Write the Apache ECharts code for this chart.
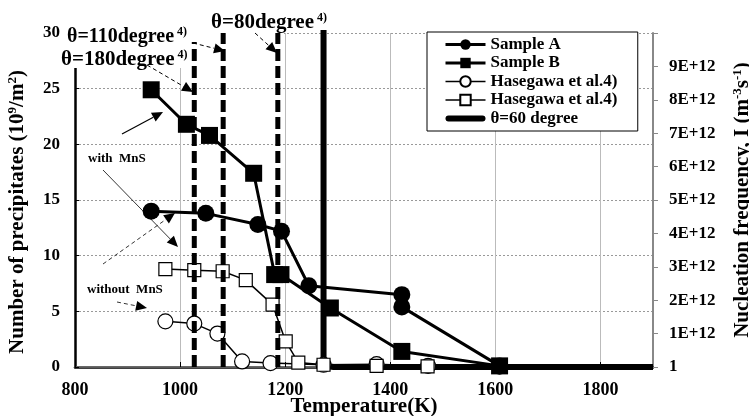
<!DOCTYPE html>
<html>
<head>
<meta charset="utf-8">
<script src="https://cdn.jsdelivr.net/npm/echarts@6/dist/echarts.min.js"></script>
<style>
  html, body { margin: 0; padding: 0; background: #fff; }
  #chart { width: 749px; height: 416px; }
</style>
</head>
<body>
<div id="chart"></div>
<script>
// 数据 (温度 K, 析出物数 10^9/m^2)
const sampleA = [[945, 14.0], [1049, 13.8], [1148, 12.8], [1193, 12.2], [1245, 7.3], [1422, 6.5], [1422, 5.4], [1608, 0.1]];
const sampleB = [[945, 24.9], [1012, 21.8], [1056, 20.8], [1140, 17.4], [1180, 8.3], [1192, 8.3], [1286, 5.3], [1422, 1.4], [1608, 0.1]];
const hasegawaCircle = [[972, 4.1], [1027, 3.9], [1071, 3.0], [1118, 0.5], [1172, 0.35], [1273, 0.2], [1374, 0.25], [1472, 0.1], [1608, 0.05]];
const hasegawaSquare = [[972, 8.8], [1027, 8.7], [1081, 8.6], [1125, 7.8], [1176, 5.6], [1201, 2.3], [1225, 0.4], [1273, 0.2], [1374, 0.1], [1471, 0.05], [1608, 0.05]];
// θ=60 degree 成核频率 (右轴)
const theta60 = [[1273, 1.2e13], [1273, 3e11], [1276, 1e11], [1282, 2e10], [1292, 0], [1900, 0]];
// 虚线 θ=180, 110, 80
const thetaAngles = ['180', '110', '80'];
const thetaTemps = [1027, 1082, 1186];
const thetaTops = [29.2, 30, 30];

const legendNames = ['Sample A', 'Sample B', 'Hasegawa et al.4)', 'Hasegawa et al.4) ', 'θ=60 degree'];
const xTicks = [800, 1900, 200];
const leftTicks = [0, 30, 5];
const rightTicks = [0, 1e13, 1e12];

const font = "'Liberation Serif', 'Times New Roman', serif";

const chart = echarts.init(document.getElementById('chart'));

function arrow(x1, y1, x2, y2, dashed, w) {
  const a = Math.atan2(y2 - y1, x2 - x1), L = 11, H = 5;
  const bx = x2 - L * Math.cos(a), by = y2 - L * Math.sin(a);
  return [
    { type: 'line', z: 20, shape: { x1: x1, y1: y1, x2: bx, y2: by },
      style: { stroke: '#000', lineWidth: w, lineDash: dashed ? [4, 3] : null } },
    { type: 'polygon', z: 20,
      shape: { points: [[x2, y2], [bx - H * Math.sin(a), by + H * Math.cos(a)], [bx + H * Math.sin(a), by - H * Math.cos(a)]] },
      style: { fill: '#000' } }
  ];
}

// 带上标 4) 的文字
function thetaLabel(angle, x, y, size) {
  return { type: 'text', z: 20, x: x, y: y,
    style: {
      text: '{m|θ=' + angle + 'degree}{s|4)}',
      verticalAlign: 'middle',
      rich: {
        m: { font: 'bold ' + size + 'px ' + font, fill: '#000', lineHeight: 22 },
        s: { font: 'bold 12px ' + font, fill: '#000', verticalAlign: 'top', lineHeight: 22, padding: [0, 0, 0, 3] }
      }
    } };
}

function label(text, x, y, size) {
  return { type: 'text', z: 20, x: x, y: y,
    style: { text: text, font: 'bold ' + size + 'px ' + font, fill: '#000', verticalAlign: 'middle' } };
}

const graphics = [
  // 白色文本框遮挡
  { type: 'rect', z: 1, shape: { x: 62, y: 26, width: 222, height: 42 }, style: { fill: '#fff' } },
  thetaLabel(thetaAngles[1], 67, 37, 20),
  thetaLabel(thetaAngles[0], 61, 60, 21),
  thetaLabel(thetaAngles[2], 211, 23, 21),
  label('with  MnS', 88, 159, 13),
  label('without  MnS', 87, 290, 13)
].concat(
  arrow(147, 65, 193, 92, true, 1),
  arrow(193, 43, 225, 51, true, 1),
  arrow(255, 33, 277, 53, true, 1),
  arrow(122, 134, 163, 112, false, 1.2),
  arrow(103, 170, 178, 247, false, 0.8),
  arrow(103, 264, 175, 213, true, 0.8),
  arrow(117, 302, 147, 308, true, 0.8)
);

const dashedSeries = thetaTemps.map((t, i) => ({
  name: 'θ=' + thetaAngles[i],
  type: 'line',
  data: [[t, 0], [t, thetaTops[i]]],
  symbol: 'none',
  lineStyle: { color: '#000', width: 5, type: [12, 5] },
  z: 5
}));

const supRich = { sup: { fontFamily: font, fontWeight: 'bold', fontSize: 13, color: '#000', verticalAlign: 'top', lineHeight: 24 } };

const option = {
  animation: false,
  grid: { left: 75, right: 96, top: 33, bottom: 49, outerBoundsMode: 'none' },
  legend: {
    left: 427, top: 32, orient: 'vertical',
    data: legendNames.map((n, i) => i === 4
      ? { name: n, icon: 'path://M3,0 L37,0 A3,3 0 0 1 37,6 L3,6 A3,3 0 0 1 3,0 Z' }
      : { name: n }),
    backgroundColor: '#fff', borderColor: '#000', borderWidth: 1,
    padding: [4, 16, 4, 17],
    itemWidth: 40, itemHeight: 13, itemGap: 1.5,
    symbolKeepAspect: true,
    lineStyle: { width: 'inherit' },
    textStyle: { fontFamily: font, fontWeight: 'bold', fontSize: 17, lineHeight: 17, color: '#000' }
  },
  xAxis: [{
    type: 'value', min: xTicks[0], max: xTicks[1], interval: xTicks[2],
    name: 'Temperature(K)', nameLocation: 'middle', nameGap: 29, nameMoveOverlap: false,
    nameTextStyle: { fontFamily: font, fontWeight: 'bold', fontSize: 21, color: '#000' },
    axisLine: { lineStyle: { color: '#000', width: 2.5 } },
    axisTick: { show: true, inside: true, length: 5, lineStyle: { color: '#000' } },
    axisLabel: { fontFamily: font, fontWeight: 'bold', fontSize: 18, color: '#000', margin: 14, showMaxLabel: false,
      formatter: v => String(v) },
    splitLine: { show: true, lineStyle: { color: '#bbb', width: 1 } }
  }, {
    type: 'value', position: 'top', min: xTicks[0], max: xTicks[1],
    axisLine: { show: true, lineStyle: { color: '#777', width: 1.5 } },
    axisTick: { show: false }, axisLabel: { show: false }, splitLine: { show: false }
  }],
  yAxis: [{
    type: 'value', position: 'left', min: leftTicks[0], max: leftTicks[1], interval: leftTicks[2],
    name: 'Number of precipitates (10{sup|9}/m{sup|2})', nameLocation: 'middle', nameGap: 45, nameRotate: 90,
    nameTextStyle: {
      fontFamily: font, fontWeight: 'bold', fontSize: 21, color: '#000', lineHeight: 24,
      padding: [0, 24, 0, 0], rich: supRich
    },
    axisLine: { show: true, lineStyle: { color: '#000', width: 2.5 } },
    axisTick: { show: true, inside: true, length: 4, lineStyle: { color: '#000' } },
    axisLabel: { fontFamily: font, fontWeight: 'bold', fontSize: 17, color: '#000', margin: 15 },
    splitLine: { show: true, lineStyle: { color: '#999', width: 1, type: [2, 2] } }
  }, {
    type: 'value', position: 'right', min: rightTicks[0], max: rightTicks[1], interval: rightTicks[2],
    name: 'Nucleation frequency, I (m{sup|-3}s{sup|-1})', nameLocation: 'middle', nameGap: 78, nameRotate: 90,
    nameTextStyle: {
      fontFamily: font, fontWeight: 'bold', fontSize: 21, color: '#000', lineHeight: 24, rich: supRich
    },
    axisLine: { show: true, lineStyle: { color: '#888', width: 2 } },
    axisTick: { show: true, inside: false, length: 5, lineStyle: { color: '#888' } },
    axisLabel: {
      fontFamily: font, fontWeight: 'bold', fontSize: 17, color: '#000', margin: 16,
      formatter: v => v === 0 ? '1' : (v >= 1e13 ? '' : Math.round(v / 1e12) + 'E+12')
    },
    splitLine: { show: false }
  }],
  graphic: graphics,
  series: [{
    name: legendNames[2], type: 'line', data: hasegawaCircle,
    symbol: 'circle', symbolSize: 15, showAllSymbol: true,
    lineStyle: { color: '#000', width: 1.5 },
    itemStyle: { color: '#fff', borderColor: '#000', borderWidth: 1.2 }
  }, {
    name: legendNames[3], type: 'line', data: hasegawaSquare,
    symbol: 'rect', symbolSize: 13, showAllSymbol: true,
    lineStyle: { color: '#000', width: 1.5 },
    itemStyle: { color: '#fff', borderColor: '#000', borderWidth: 1.2 }
  }, {
    name: legendNames[0], type: 'line', data: sampleA,
    symbol: 'circle', symbolSize: 17, showAllSymbol: true,
    lineStyle: { color: '#000', width: 3 },
    itemStyle: { color: '#000' }
  }, {
    name: legendNames[1], type: 'line', data: sampleB,
    symbol: 'rect', symbolSize: 17, showAllSymbol: true,
    lineStyle: { color: '#000', width: 3 },
    itemStyle: { color: '#000' }
  }, {
    name: legendNames[4], type: 'line', yAxisIndex: 1, data: theta60,
    symbol: 'none', clip: true,
    lineStyle: { color: '#000', width: 6 },
    itemStyle: { color: '#000' }
  }].concat(dashedSeries)
};

chart.setOption(option);
</script>
</body>
</html>
